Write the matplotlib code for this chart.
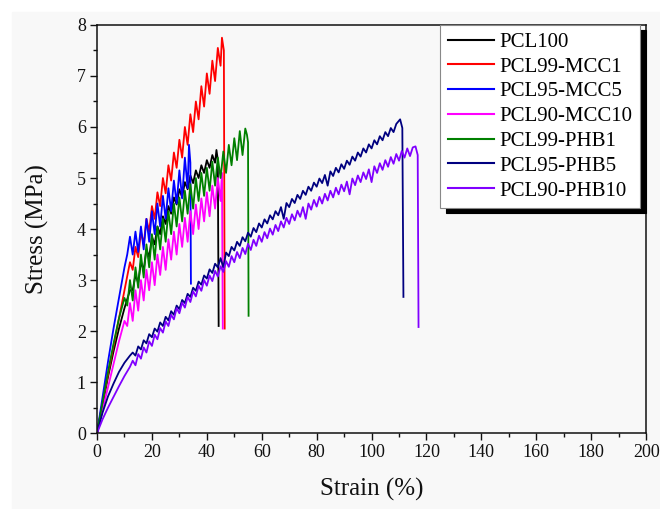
"""
Tensile stress-strain curves: PCL blended with MCC / PHB at several loadings.
"""
import matplotlib
matplotlib.use("Agg")
import matplotlib.pyplot as plt
import matplotlib.ticker as ticker
from matplotlib.patches import Rectangle

OUT_FILE = "out.png"

BACKGROUND = "#f8f8f8"
FONT = ["Liberation Serif", "DejaVu Serif"]

# ── data ──────────────────────────────────────────────────────────────────

PCL100_X = [0, 2, 4, 6, 8, 10, 12,
            13, 14, 15, 16, 17, 18, 19, 20, 21, 22, 23, 24, 25, 26, 27, 28,
            29, 30, 31, 32, 33, 34, 35, 36, 37, 38, 39, 40, 41, 42, 43,
            43.5, 44.0, 44.3]
PCL100_Y = [0, 0.55, 1.1, 1.6, 2.05, 2.45, 2.8,
            2.8, 3.1, 2.95, 3.35, 3.2, 3.6, 3.45, 3.85, 3.7, 4.05, 3.9, 4.25,
            4.1, 4.45, 4.3, 4.62, 4.48, 4.78, 4.62, 4.92, 4.78, 5.05, 4.9,
            5.15, 5.0, 5.25, 5.1, 5.35, 5.2, 5.45, 5.3,
            5.55, 5.35, 2.1]

MCC1_X = [0, 2, 4, 6, 8, 10, 12,
          13, 14, 15, 16, 17, 18, 19, 20, 21, 22, 23, 24, 25, 26, 27, 28, 29,
          30, 31, 32, 33, 34, 35, 36, 37, 38, 39, 40, 41, 42, 43, 44, 45,
          45.5, 46.2, 46.5]
MCC1_Y = [0, 0.6, 1.15, 1.7, 2.25, 2.8, 3.35,
          3.2, 3.65, 3.45, 3.95, 3.7, 4.2, 3.95, 4.45, 4.2, 4.72, 4.45, 5.0,
          4.7, 5.25, 4.95, 5.5, 5.2, 5.75, 5.4, 6.0, 5.65, 6.25, 5.9, 6.5,
          6.15, 6.8, 6.4, 7.05, 6.65, 7.3, 6.9, 7.55, 7.2,
          7.75, 7.5, 2.05]

MCC5_X = [0, 2, 4, 6, 8, 10,
          11, 12, 13, 14, 15, 16, 17, 18, 19, 20, 21, 22, 23, 24, 25, 26, 27,
          28, 29, 30, 31, 32, 33,
          33.5, 34.0, 34.2]
MCC5_Y = [0, 0.7, 1.4, 2.05, 2.65, 3.25,
          3.5, 3.85, 3.5, 3.95, 3.55, 4.05, 3.6, 4.2, 3.75, 4.35, 3.9, 4.5,
          4.05, 4.65, 4.2, 4.8, 4.35, 4.95, 4.5, 5.15, 4.6, 5.4, 4.8,
          5.65, 5.3, 2.93]

MCC10_X = [0, 2, 4, 6, 8, 10,
           11, 12, 13, 14, 15, 16, 17, 18, 19, 20, 21, 22, 23, 24, 25, 26,
           27, 28, 29, 30, 31, 32, 33, 34, 35, 36, 37, 38, 39, 40, 41, 42,
           43, 44, 45,
           45.5, 45.8]
MCC10_Y = [0, 0.45, 0.9, 1.35, 1.8, 2.2,
           2.1, 2.55, 2.2, 2.8, 2.4, 3.0, 2.6, 3.2, 2.8, 3.35, 2.9, 3.5, 3.1,
           3.65, 3.2, 3.8, 3.4, 3.95, 3.5, 4.1, 3.65, 4.22, 3.75, 4.35, 3.9,
           4.48, 4.0, 4.6, 4.15, 4.72, 4.25, 4.85, 4.4, 5.0, 4.55,
           5.1, 2.05]

PHB1_X = [0, 2, 4, 6, 8, 10,
          11, 12, 13, 14, 15, 16, 17, 18, 19, 20, 21, 22, 23, 24, 25, 26, 27,
          28, 29, 30, 31, 32, 33, 34, 35, 36, 37, 38, 39, 40, 41, 42, 43, 44,
          45, 46, 47, 48, 49, 50, 51, 52, 53, 54,
          54.6, 55.0, 55.2]
PHB1_Y = [0, 0.6, 1.2, 1.75, 2.25, 2.65,
          2.5, 3.0, 2.6, 3.25, 2.85, 3.5, 3.05, 3.7, 3.25, 3.9, 3.4, 4.05,
          3.6, 4.2, 3.75, 4.35, 3.9, 4.5, 4.05, 4.62, 4.15, 4.75, 4.3, 4.88,
          4.4, 5.0, 4.55, 5.1, 4.65, 5.2, 4.75, 5.32, 4.85, 5.4, 5.0, 5.52,
          5.1, 5.65, 5.25, 5.78, 5.35, 5.92, 5.45, 5.97,
          5.85, 5.7, 2.3]

PHB5_X = [0, 2, 4, 6, 8, 10, 12,
          13, 14, 15, 16, 17, 18, 19, 20, 21, 22, 23, 24,
          25, 26, 27, 28, 29, 30, 31, 32, 33, 34, 35, 36,
          37, 38, 39, 40, 41, 42, 43, 44, 45, 46, 47, 48,
          49, 50, 51, 52, 53, 54, 55, 56, 57, 58, 59, 60,
          61, 62, 63, 64, 65, 66, 67, 68, 69, 70, 71, 72,
          73, 74, 75, 76, 77, 78, 79, 80, 81, 82, 83, 84,
          85, 86, 87, 88, 89, 90, 91, 92, 93, 94, 95, 96,
          97, 98, 99, 100, 101, 102, 103, 104, 105, 106, 107, 108,
          109, 110.4, 111.2, 111.6]
PHB5_Y = [0, 0.4, 0.72, 0.97, 1.2, 1.38, 1.52,
          1.58, 1.52, 1.70, 1.64, 1.82, 1.76, 1.94, 1.88, 2.05, 1.99, 2.17, 2.10,
          2.28, 2.21, 2.39, 2.32, 2.50, 2.43, 2.61, 2.55, 2.73, 2.67, 2.85, 2.79,
          2.97, 2.91, 3.09, 3.03, 3.21, 3.14, 3.32, 3.25, 3.43, 3.25, 3.54, 3.47,
          3.65, 3.58, 3.75, 3.67, 3.84, 3.76, 3.93, 3.85, 4.02, 3.94, 4.11, 4.03,
          4.19, 4.11, 4.27, 4.19, 4.35, 4.27, 4.43, 4.20, 4.51, 4.43, 4.59, 4.51,
          4.67, 4.59, 4.75, 4.67, 4.83, 4.75, 4.91, 4.83, 4.99, 4.90, 5.06, 4.85,
          5.13, 5.04, 5.20, 5.11, 5.27, 5.18, 5.34, 5.26, 5.42, 5.34, 5.50, 5.42,
          5.58, 5.50, 5.66, 5.58, 5.74, 5.66, 5.82, 5.74, 5.90, 5.82, 5.98, 5.90,
          6.06, 6.15, 5.98, 2.67]

PHB10_X = [0, 2, 4, 6, 8, 10, 12,
           13, 14, 15, 16, 17, 18, 19, 20, 21, 22, 23, 24,
           25, 26, 27, 28, 29, 30, 31, 32, 33, 34, 35, 36,
           37, 38, 39, 40, 41, 42, 43, 44, 45, 46, 47, 48,
           49, 50, 51, 52, 53, 54, 55, 56, 57, 58, 59, 60,
           61, 62, 63, 64, 65, 66, 67, 68, 69, 70, 71, 72,
           73, 74, 75, 76, 77, 78, 79, 80, 81, 82, 83, 84,
           85, 86, 87, 88, 89, 90, 91, 92, 93, 94, 95, 96,
           97, 98, 99, 100, 101, 102, 103, 104, 105, 106, 107, 108,
           109, 110, 111, 112, 113, 114, 115,
           116, 116.8, 117.1]
PHB10_Y = [0, 0.27, 0.5, 0.71, 0.92, 1.12, 1.3,
           1.42, 1.33, 1.55, 1.46, 1.68, 1.58, 1.80, 1.71, 1.93, 1.84, 2.06, 1.97,
           2.19, 2.10, 2.32, 2.23, 2.45, 2.35, 2.56, 2.46, 2.67, 2.57, 2.78, 2.68,
           2.89, 2.79, 3.00, 2.89, 3.09, 2.98, 3.18, 3.07, 3.27, 3.16, 3.37, 3.26,
           3.47, 3.35, 3.55, 3.43, 3.63, 3.51, 3.71, 3.59, 3.79, 3.67, 3.87, 3.75,
           3.94, 3.82, 4.01, 3.89, 4.08, 3.96, 4.15, 4.03, 4.22, 4.10, 4.29, 4.17,
           4.36, 4.24, 4.43, 4.20, 4.50, 4.38, 4.57, 4.44, 4.63, 4.50, 4.69, 4.56,
           4.75, 4.62, 4.81, 4.68, 4.87, 4.74, 4.93, 4.68, 4.99, 4.86, 5.05, 4.92,
           5.11, 4.98, 5.17, 4.92, 5.23, 5.10, 5.29, 5.16, 5.35, 5.22, 5.41, 5.28,
           5.47, 5.34, 5.53, 5.40, 5.58, 5.43, 5.60,
           5.62, 5.45, 2.08]

SERIES = [
    ("PCL100",      PCL100_X, PCL100_Y, "#000000"),
    ("PCL99-MCC1",  MCC1_X,   MCC1_Y,   "#ff0000"),
    ("PCL95-MCC5",  MCC5_X,   MCC5_Y,   "#0000ff"),
    ("PCL90-MCC10", MCC10_X,  MCC10_Y,  "#ff00ff"),
    ("PCL99-PHB1",  PHB1_X,   PHB1_Y,   "#008000"),
    ("PCL95-PHB5",  PHB5_X,   PHB5_Y,   "#000080"),
    ("PCL90-PHB10", PHB10_X,  PHB10_Y,  "#8000ff"),
]

# ── plot ───────────────────────────────────────────────────────────────────

plt.rcParams["font.family"] = FONT

fig = plt.figure(figsize=(6.6, 5.09), dpi=100)
fig.patch.set_facecolor("#ffffff")
# scanned-looking grey page with a thin white margin top/left
page = Rectangle((0.018, 0), 1, 0.976, transform=fig.transFigure,
                 color=BACKGROUND, zorder=-10)
fig.add_artist(page)

ax = fig.add_axes([0.147, 0.149, 0.832, 0.802])
ax.set_zorder(1)
ax.set_facecolor(BACKGROUND)

for label, xs, ys, color in SERIES:
    ax.plot(xs, ys, color=color, linewidth=1.3, label=label)

ax.set_xlim(0, 200)
ax.set_ylim(0, 8)
ax.xaxis.set_major_locator(ticker.MultipleLocator(20))
ax.xaxis.set_minor_locator(ticker.MultipleLocator(10))
ax.yaxis.set_major_locator(ticker.MultipleLocator(1))
ax.yaxis.set_minor_locator(ticker.MultipleLocator(0.5))
ax.tick_params(which="both", direction="out", top=False, right=False,
               width=1.0, colors="#111111", labelsize=13)
ax.tick_params(which="major", length=5)
ax.tick_params(which="minor", length=3)
ax.tick_params(axis="x", pad=3)
ax.tick_params(axis="y", pad=3)
for side in ax.spines.values():
    side.set_linewidth(1.1)
    side.set_color("#111111")

ax.set_xlabel("Strain (%)", fontsize=18, labelpad=12, color="#111111")
ax.set_ylabel("Stress (MPa)", fontsize=18, labelpad=20, color="#111111")

leg = ax.legend(loc="upper right", bbox_to_anchor=(0.989, 1.0),
                borderaxespad=0, fontsize=15, frameon=True, fancybox=False,
                shadow={"color": "black", "alpha": 1.0, "ox": 4, "oy": -4},
                handlelength=2.2, handletextpad=0.3, labelspacing=0.25,
                borderpad=0.35)
leg.get_frame().set_edgecolor("#888888")
leg.get_frame().set_linewidth(0.8)
leg.get_frame().set_facecolor("#ffffff")
for h in leg.get_lines():
    h.set_linewidth(1.5)

fig.savefig(OUT_FILE, dpi=100, facecolor=fig.get_facecolor())
